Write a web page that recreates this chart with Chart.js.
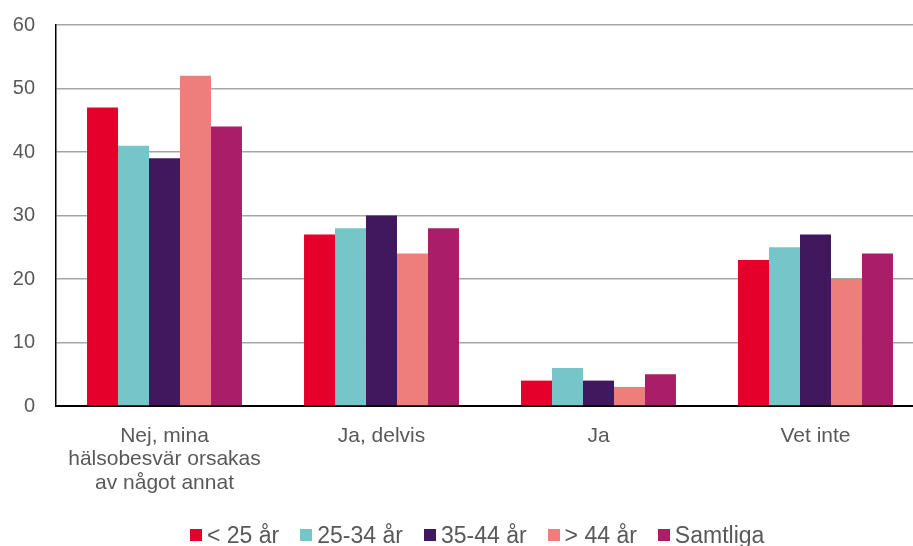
<!DOCTYPE html>
<html>
<head>
<meta charset="utf-8">
<script src="https://cdn.jsdelivr.net/npm/chart.js@4.4.1/dist/chart.umd.min.js"></script>
<style>
  html, body { margin: 0; padding: 0; background: #fff; overflow: hidden; }
  #wrap { position: relative; width: 913px; height: 546px; overflow: hidden; }
  #chart { position: absolute; left: 0; top: 0; }
  #legend {
    position: absolute; left: 190px; top: 522px;
    display: flex; align-items: center;
    font-family: 'Liberation Sans', Arial, sans-serif; font-size: 23px; color: #595959;
    line-height: 26px; white-space: nowrap;
  }
  #legend .item { display: flex; align-items: center; margin-right: 21px; }
  #legend .box { width: 12px; height: 12px; margin-right: 5px; }
</style>
</head>
<body>
<div id="wrap">
  <!-- plottytan fortsätter lite utanför högerkanten -->
  <canvas id="chart" width="924" height="546"></canvas>
  <div id="legend"></div>
</div>
<script>
// kategorier och serier
const categories = [
  ["Nej, mina", "hälsobesvär orsakas", "av något annat"],
  "Ja, delvis",
  "Ja",
  "Vet inte"
];
const seriesNames = ["< 25 år", "25-34 år", "35-44 år", "> 44 år", "Samtliga"];
const under25 = [47, 27, 4, 23];
const age25to34 = [41, 28, 6, 25];
const age35to44 = [39, 30, 4, 27];
const over44 = [52, 24, 3, 20];
const samtliga = [44, 28, 5, 24];
const colors = ["#E4002B", "#76C5C8", "#41185E", "#EE7E7C", "#A91E66"];
const yTicks = [0, 10, 20, 30, 40, 50, 60];

const values = [under25, age25to34, age35to44, over44, samtliga];
const datasets = seriesNames.map((name, i) => ({
  label: name,
  data: values[i],
  backgroundColor: colors[i],
  borderWidth: 0,
  barPercentage: 1,
  categoryPercentage: 0.714
}));

const font = "'Liberation Sans', Arial, sans-serif";

const chart = new Chart(document.getElementById('chart'), {
  type: 'bar',
  data: { labels: categories, datasets },
  options: {
    responsive: false,
    animation: false,
    devicePixelRatio: 1,
    layout: { padding: { top: 25, right: 0, left: 0, bottom: 0 } },
    plugins: {
      tooltip: { enabled: false },
      legend: { display: false }
    },
    scales: {
      x: {
        grid: { display: false, drawTicks: false },
        border: { color: '#000', width: 2 },
        ticks: {
          color: '#595959',
          font: { family: font, size: 21, lineHeight: 1.1 },
          padding: 19,
          maxRotation: 0,
          autoSkip: false
        },
        afterFit: s => { s.height = 140; s.paddingRight = 0; }
      },
      y: {
        min: 0,
        max: 60,
        afterBuildTicks: s => { s.ticks = yTicks.map(v => ({ value: v })); },
        grid: { color: '#A6A6A6', lineWidth: 1.5, drawTicks: false },
        border: { color: '#000', width: 1.5 },
        ticks: {
          color: '#595959',
          font: { family: font, size: 20 },
          padding: 21
        },
        afterFit: s => { s.width = 56; s.paddingTop = 0; s.paddingBottom = 0; }
      }
    }
  }
});

// förklaring under diagrammet
const legendEl = document.getElementById('legend');
chart.data.datasets.forEach(ds => {
  const item = document.createElement('div');
  item.className = 'item';
  const box = document.createElement('span');
  box.className = 'box';
  box.style.background = ds.backgroundColor;
  const txt = document.createElement('span');
  txt.textContent = ds.label;
  item.appendChild(box);
  item.appendChild(txt);
  legendEl.appendChild(item);
});
</script>
</body>
</html>
